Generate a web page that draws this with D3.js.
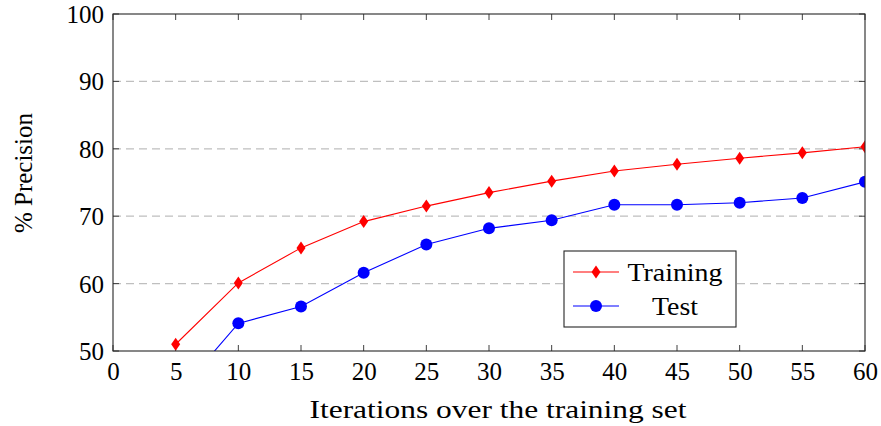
<!DOCTYPE html>
<html>
<head>
<meta charset="utf-8">
<script src="https://cdn.jsdelivr.net/npm/d3@7/dist/d3.min.js"></script>
<style>
  body { margin: 0; background: #fff; }
  text { font-family: "Liberation Serif", "Times New Roman", serif; fill: #000; }
</style>
</head>
<body>
<div id="chart"></div>
<script>
// values
let iterations = [5, 10, 15, 20, 25, 30, 35, 40, 45, 50, 55, 60];
let training = [51.0, 60.1, 65.3, 69.2, 71.5, 73.5, 75.2, 76.7, 77.7, 78.6, 79.4, 80.3];
let test = [43.3, 54.1, 56.6, 61.6, 65.8, 68.2, 69.4, 71.7, 71.7, 72.0, 72.7, 75.1];
let xTicks = [0, 5, 10, 15, 20, 25, 30, 35, 40, 45, 50, 55, 60];
let yTicks = [50, 60, 70, 80, 90, 100];

const W = 881, H = 426,
	pLeft = 113, pRight = 865, pTop = 14, pBottom = 351,
	fs = "25px";

let svg = d3.select("#chart").append("svg")
	.attr("width", W)
	.attr("height", H);

let xScale = d3.scaleLinear().domain([0, 60]).range([pLeft, pRight]);
let yScale = d3.scaleLinear().domain([50, 100]).range([pBottom, pTop]);

// dashed grid
svg.append("g")
	.selectAll("line")
	.data(yTicks.filter(d => d > 50 && d < 100))
	.enter().append("line")
	.attr("x1", pLeft).attr("x2", pRight)
	.attr("y1", d => yScale(d)).attr("y2", d => yScale(d))
	.attr("stroke", "#bfbfbf")
	.attr("stroke-width", 1.2)
	.attr("stroke-dasharray", "8,5");

// inner ticks on every side
let tickLen = 6;
let tk = svg.append("g").attr("stroke", "#404040").attr("stroke-width", 1);
xTicks.forEach(function(d){
	tk.append("line").attr("x1", xScale(d)).attr("x2", xScale(d)).attr("y1", pBottom).attr("y2", pBottom - tickLen);
	tk.append("line").attr("x1", xScale(d)).attr("x2", xScale(d)).attr("y1", pTop).attr("y2", pTop + tickLen);
});
yTicks.forEach(function(d){
	tk.append("line").attr("y1", yScale(d)).attr("y2", yScale(d)).attr("x1", pLeft).attr("x2", pLeft + tickLen);
	tk.append("line").attr("y1", yScale(d)).attr("y2", yScale(d)).attr("x1", pRight).attr("x2", pRight - tickLen);
});

// tick labels through d3 axes, no lines
let xAxis = svg.append("g")
	.attr("transform", "translate(0," + pBottom + ")")
	.call(d3.axisBottom(xScale).tickValues(xTicks).tickSize(0).tickPadding(11));
let yAxis = svg.append("g")
	.attr("transform", "translate(" + pLeft + ",0)")
	.call(d3.axisLeft(yScale).tickValues(yTicks).tickSize(0).tickPadding(9));
[xAxis, yAxis].forEach(function(a){
	a.select(".domain").remove();
	a.selectAll("text")
	 .style("font-family", '"Liberation Serif", serif')
	 .style("font-size", fs)
	 .attr("fill", "#000");
});
xAxis.selectAll("text").attr("dy", "0.71em");
yAxis.selectAll("text").attr("dy", "0.34em");

// clip for series
svg.append("clipPath").attr("id", "clip")
	.append("rect")
	.attr("x", pLeft).attr("y", pTop)
	.attr("width", pRight - pLeft).attr("height", pBottom - pTop);

let plot = svg.append("g").attr("clip-path", "url(#clip)");

let line = d3.line()
	.x((d, i) => xScale(iterations[i]))
	.y(d => yScale(d));

function diamond(sel){
	sel.attr("d", "M0,-6.5L4.5,0L0,6.5L-4.5,0Z").attr("fill", "#ff0000");
}

plot.append("path")
	.datum(training)
	.attr("d", line)
	.attr("fill", "none")
	.attr("stroke", "#ff0000")
	.attr("stroke-width", 1.1);

plot.append("path")
	.datum(test)
	.attr("d", line)
	.attr("fill", "none")
	.attr("stroke", "#0000ff")
	.attr("stroke-width", 1.1);

plot.append("g")
	.selectAll("path")
	.data(training)
	.enter().append("path")
	.attr("transform", (d, i) => "translate(" + xScale(iterations[i]) + "," + yScale(d) + ")")
	.call(diamond);

plot.append("g")
	.selectAll("circle")
	.data(test)
	.enter().append("circle")
	.attr("cx", (d, i) => xScale(iterations[i]))
	.attr("cy", d => yScale(d))
	.attr("r", 6)
	.attr("fill", "#0000ff");

// frame
svg.append("rect")
	.attr("x", pLeft).attr("y", pTop)
	.attr("width", pRight - pLeft).attr("height", pBottom - pTop)
	.attr("fill", "none")
	.attr("stroke", "#262626")
	.attr("stroke-width", 1.1);

// legend
let lg = svg.append("g").attr("transform", "translate(564,251)");
lg.append("rect")
	.attr("width", 172).attr("height", 76)
	.attr("fill", "#fff")
	.attr("stroke", "#262626")
	.attr("stroke-width", 1.1);

let entries = [
	{name: "Training", color: "#ff0000", y: 21, mark: "diamond", len: 95},
	{name: "Test", color: "#0000ff", y: 55, mark: "circle", len: 46}
];
entries.forEach(function(e){
	lg.append("line")
		.attr("x1", 9).attr("x2", 55)
		.attr("y1", e.y).attr("y2", e.y)
		.attr("stroke", e.color).attr("stroke-width", 1.1);
	if (e.mark == "diamond") {
		lg.append("path").attr("transform", "translate(32," + e.y + ")").call(diamond);
	} else {
		lg.append("circle").attr("cx", 32).attr("cy", e.y).attr("r", 6).attr("fill", e.color);
	}
	lg.append("text")
		.attr("x", 111).attr("y", e.y)
		.attr("dy", "0.34em")
		.attr("text-anchor", "middle")
		.attr("textLength", e.len)
		.attr("lengthAdjust", "spacingAndGlyphs")
		.style("font-size", fs)
		.text(e.name);
});

// axis titles
svg.append("text")
	.attr("x", 498).attr("y", 418)
	.attr("text-anchor", "middle")
	.attr("textLength", 377)
	.attr("lengthAdjust", "spacingAndGlyphs")
	.style("font-size", fs)
	.text("Iterations over the training set");

svg.append("text")
	.attr("transform", "translate(32,173) rotate(-90)")
	.attr("text-anchor", "middle")
	.attr("textLength", 120)
	.attr("lengthAdjust", "spacingAndGlyphs")
	.style("font-size", fs)
	.text("% Precision");
</script>
</body>
</html>
